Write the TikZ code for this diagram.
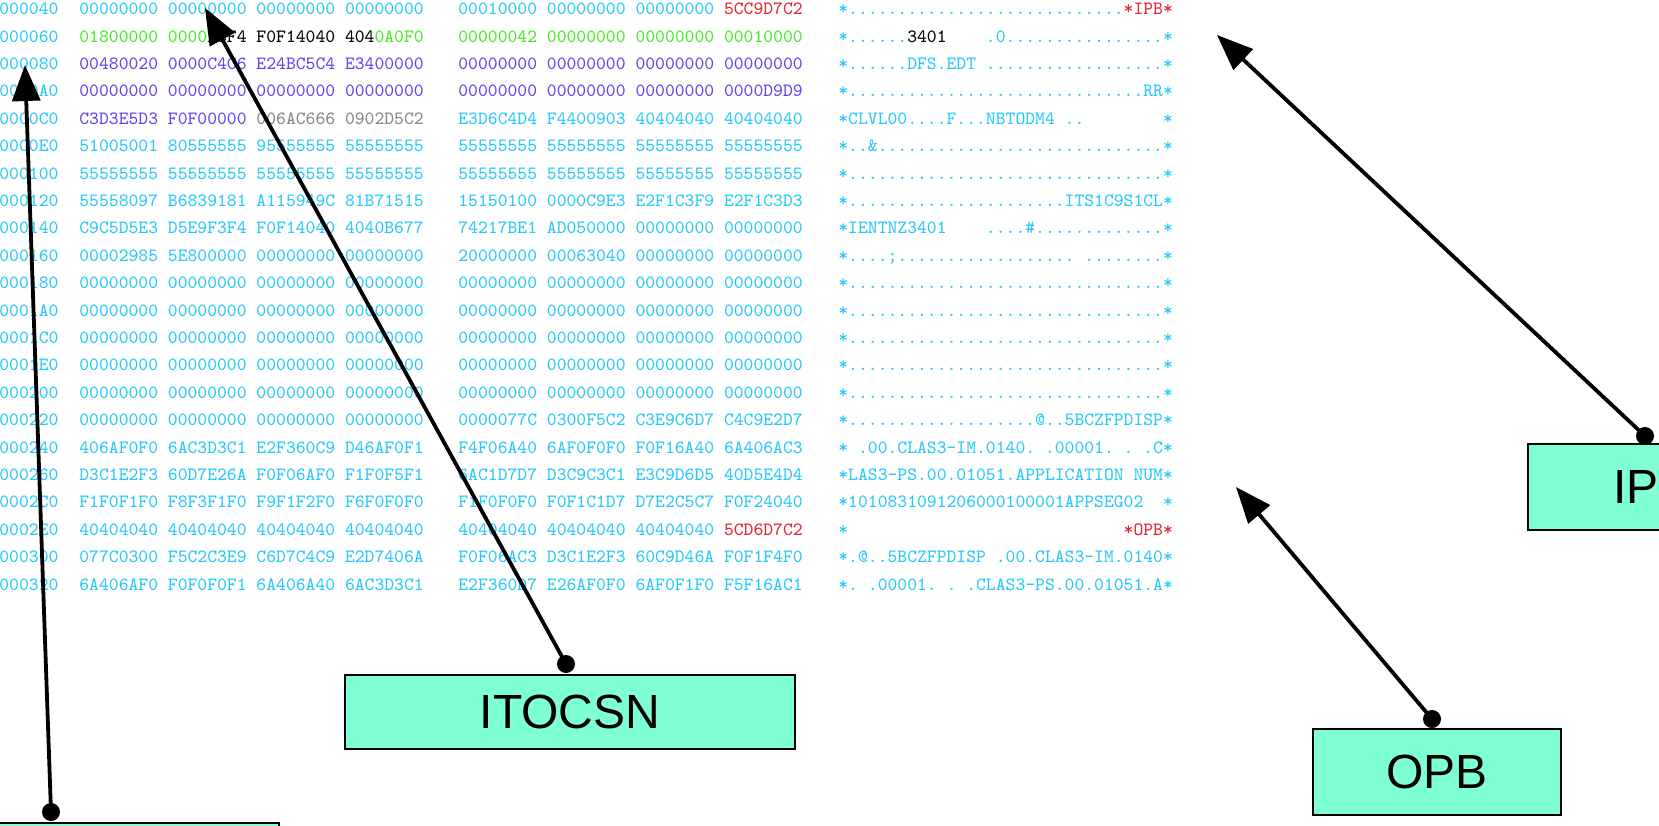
\documentclass[tikz,border=0pt]{standalone}
\usepackage{fontspec}
\newfontfamily\labelfont{Liberation Sans}
\usetikzlibrary{arrows.meta}
\definecolor{dcyan}{RGB}{40,200,250}
\definecolor{dgreen}{RGB}{70,235,40}
\definecolor{dpurple}{RGB}{100,70,240}
\definecolor{dgrey}{RGB}{135,135,135}
\definecolor{dred}{RGB}{225,40,50}
\definecolor{tagfill}{RGB}{127,255,212}
\newcommand{\hgreen}[1]{\textcolor{dgreen}{#1}}
\newcommand{\hblack}[1]{\textcolor{black}{#1}}
\newcommand{\hpurple}[1]{\textcolor{dpurple}{#1}}
\newcommand{\hgrey}[1]{\textcolor{dgrey}{#1}}
\newcommand{\hred}[1]{\textcolor{dred}{#1}}
% one line of the dump: row, offset, left words, right words, characters
\newcommand{\dumprow}[5]{%
  \node[dump] (off#2) at (-1, {14.7+27.4*#1}) {#2};
  \node[dump] (lft#2) at (79, {14.7+27.4*#1}) {#3};
  \node[dump] (rgt#2) at (458, {14.7+27.4*#1}) {#4};
  \node[dump] (asc#2) at (838, {14.7+27.4*#1}) {#5};
}

\begin{document}
\begin{tikzpicture}[x=0.5pt, y=-0.5pt, >={Triangle[length=18pt,width=14pt]},
  dump/.style={font=\ttfamily\fontsize{9.37}{10}\selectfont, text=dcyan, inner sep=0pt, anchor=base west},
  tagbox/.style={draw, line width=1pt, fill=tagfill, font=\labelfont\fontsize{24}{26}\selectfont},
  pointer/.style={line width=1.9pt, ->}]
  \useasboundingbox (0,0) rectangle (1659,825);
  \clip (0,0) rectangle (1659,825);

  % Dump
  \dumprow{0}{000040}{00000000 00000000 00000000 00000000}{00010000 00000000 00000000 \hred{5CC9D7C2}}{*............................\hred{*IPB*}}
  \dumprow{1}{000060}{\hgreen{01800000 0000}\hblack{F3F4 F0F14040 404}\hgreen{0A0F0}}{\hgreen{00000042 00000000 00000000 00010000}}{*......\hblack{3401}~~~~.0................*}
  \dumprow{2}{000080}{\hpurple{00480020 0000C4C6 E24BC5C4 E3400000}}{\hpurple{00000000 00000000 00000000 00000000}}{*......DFS.EDT~..................*}
  \dumprow{3}{0000A0}{\hpurple{00000000 00000000 00000000 00000000}}{\hpurple{00000000 00000000 00000000 0000D9D9}}{*..............................RR*}
  \dumprow{4}{0000C0}{\hpurple{C3D3E5D3 F0F00000} \hgrey{006AC666 0902D5C2}}{E3D6C4D4 F4400903 40404040 40404040}{*CLVL00....F...NBTODM4~..~~~~~~~~*}
  \dumprow{5}{0000E0}{51005001 80555555 95555555 55555555}{55555555 55555555 55555555 55555555}{*..\&.............................*}
  \dumprow{6}{000100}{55555555 55555555 55555555 55555555}{55555555 55555555 55555555 55555555}{*................................*}
  \dumprow{7}{000120}{55558097 B6839181 A115949C 81B71515}{15150100 0000C9E3 E2F1C3F9 E2F1C3D3}{*......................ITS1C9S1CL*}
  \dumprow{8}{000140}{C9C5D5E3 D5E9F3F4 F0F14040 4040B677}{74217BE1 AD050000 00000000 00000000}{*IENTNZ3401~~~~....\#.............*}
  \dumprow{9}{000160}{00002985 5E800000 00000000 00000000}{20000000 00063040 00000000 00000000}{*....;..................~........*}
  \dumprow{10}{000180}{00000000 00000000 00000000 00000000}{00000000 00000000 00000000 00000000}{*................................*}
  \dumprow{11}{0001A0}{00000000 00000000 00000000 00000000}{00000000 00000000 00000000 00000000}{*................................*}
  \dumprow{12}{0001C0}{00000000 00000000 00000000 00000000}{00000000 00000000 00000000 00000000}{*................................*}
  \dumprow{13}{0001E0}{00000000 00000000 00000000 00000000}{00000000 00000000 00000000 00000000}{*................................*}
  \dumprow{14}{000200}{00000000 00000000 00000000 00000000}{00000000 00000000 00000000 00000000}{*................................*}
  \dumprow{15}{000220}{00000000 00000000 00000000 00000000}{0000077C 0300F5C2 C3E9C6D7 C4C9E2D7}{*...................@..5BCZFPDISP*}
  \dumprow{16}{000240}{406AF0F0 6AC3D3C1 E2F360C9 D46AF0F1}{F4F06A40 6AF0F0F0 F0F16A40 6A406AC3}{*~.00.CLAS3-IM.0140.~.00001.~.~.C*}
  \dumprow{17}{000260}{D3C1E2F3 60D7E26A F0F06AF0 F1F0F5F1}{6AC1D7D7 D3C9C3C1 E3C9D6D5 40D5E4D4}{*LAS3-PS.00.01051.APPLICATION~NUM*}
  \dumprow{18}{0002C0}{F1F0F1F0 F8F3F1F0 F9F1F2F0 F6F0F0F0}{F1F0F0F0 F0F1C1D7 D7E2C5C7 F0F24040}{*1010831091206000100001APPSEG02~~*}
  \dumprow{19}{0002E0}{40404040 40404040 40404040 40404040}{40404040 40404040 40404040 \hred{5CD6D7C2}}{*~~~~~~~~~~~~~~~~~~~~~~~~~~~~\hred{*OPB*}}
  \dumprow{20}{000300}{077C0300 F5C2C3E9 C6D7C4C9 E2D7406A}{F0F06AC3 D3C1E2F3 60C9D46A F0F1F4F0}{*.@..5BCZFPDISP~.00.CLAS3-IM.0140*}
  \dumprow{21}{000320}{6A406AF0 F0F0F0F1 6A406A40 6AC3D3C1}{E2F360D7 E26AF0F0 6AF0F1F0 F5F16AC1}{*.~.00001.~.~.CLAS3-PS.00.01051.A*}

  % Boxes
  \node[tagbox, minimum width=225pt, minimum height=37pt] (csn) at (570, 712) {ITOCSN};
  \node[tagbox, minimum width=124pt, minimum height=43pt] (opb) at (1437, 772) {OPB};
  \node[tagbox, anchor=west, minimum height=43pt, inner xsep=42.5pt, text width=40pt, align=left] (ipb) at (1527, 487) {IP};
  \node[tagbox, anchor=north west, minimum width=144pt, minimum height=60pt] (seg) at (-10, 822) {};

  % Pointers
  \coordinate (csntail) at (566, 664);
  \coordinate (csntip) at (205, 8);
  \coordinate (segtail) at (51, 812);
  \coordinate (segtip) at (25, 65);
  \coordinate (opbtail) at (1432, 719);
  \coordinate (opbtip) at (1236, 487);
  \coordinate (ipbtail) at (1645, 436);
  \coordinate (ipbtip) at (1217, 35);
  \draw[pointer] (csntail) -- (csntip);
  \draw[pointer] (segtail) -- (segtip);
  \draw[pointer] (opbtail) -- (opbtip);
  \draw[pointer] (ipbtail) -- (ipbtip);
  \foreach \t in {csntail, segtail, opbtail, ipbtail}
    \fill (\t) circle (4.5pt);
\end{tikzpicture}
\end{document}
